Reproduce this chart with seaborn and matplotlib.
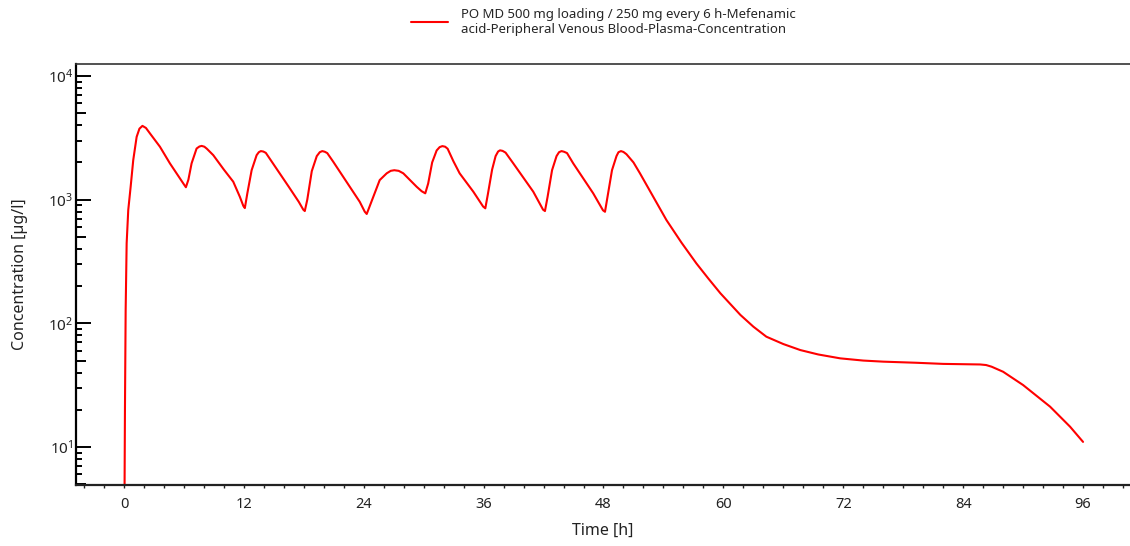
# Mefenamic acid plasma concentration, multiple dose PO

import numpy as np
import pandas as pd
import seaborn as sns
import matplotlib.pyplot as plt
from matplotlib.ticker import LogLocator, NullFormatter, MultipleLocator

# time [h] and concentration [ug/l]
time_h = [0.0, 0.1, 0.17, 0.27, 0.43, 0.67, 0.93, 1.27, 1.55, 1.85, 2.2, 2.6, 3.6, 4.6, 5.6, 6.0, 6.2,
          6.45, 6.77, 7.27, 7.55, 7.78, 8.05, 8.3, 8.94, 10.0, 10.94, 11.6, 11.95, 12.1,
          12.35, 12.78, 13.28, 13.5, 13.7, 13.95, 14.2, 14.85, 16.5, 17.5, 17.95, 18.1,
          18.35, 18.8, 19.3, 19.6, 19.85, 20.1, 20.35, 20.95, 22.6, 23.6, 24.1, 24.3,
          24.96, 25.6, 26.3, 26.7, 27.06, 27.5, 27.96, 28.96, 29.3, 29.8, 30.16,
          30.45, 30.85, 31.3, 31.6, 31.87, 32.15, 32.4, 32.97, 33.6, 34.97, 35.95, 36.17,
          36.42, 36.85, 37.2, 37.45, 37.64, 37.9, 38.2, 38.97, 40.97, 41.95, 42.14,
          42.4, 42.85, 43.3, 43.55, 43.8, 44.05, 44.35, 44.97, 46.97, 47.95, 48.15,
          48.4, 48.85, 49.3, 49.5, 49.75, 50.0, 50.3, 51.0, 51.65, 53.0, 54.3, 55.8, 57.3, 58.5, 59.7,
          61.7, 63.0, 64.3, 66.0, 67.7, 69.5, 71.7, 74.0, 76.0, 79.3, 82.0, 85.0, 85.7,
          86.3, 86.85, 88.0, 90.0, 92.7, 94.7, 96.0]
conc = [0.5, 20, 128, 444, 824, 1271, 2090, 3220, 3750, 3950, 3800, 3435, 2680, 1965, 1485, 1330, 1260,
        1450, 1965, 2590, 2690, 2720, 2680, 2580, 2290, 1750, 1397, 1055, 890, 855,
        1125, 1730, 2290, 2420, 2470, 2450, 2390, 2000, 1270, 960, 830, 809,
        1000, 1700, 2250, 2420, 2470, 2440, 2380, 2025, 1271, 961, 800, 766,
        1055, 1440, 1633, 1710, 1730, 1710, 1633, 1356, 1271, 1170, 1125,
        1350, 2000, 2500, 2660, 2710, 2680, 2580, 2050, 1633, 1160, 880, 851,
        1100, 1750, 2250, 2450, 2505, 2480, 2400, 1965, 1160, 830, 809,
        1050, 1730, 2250, 2420, 2470, 2440, 2380, 1965, 1125, 820, 798,
        1050, 1730, 2250, 2420, 2470, 2430, 2330, 2000, 1633, 1050, 684, 450, 305, 230, 175,
        117, 94, 78, 68, 60.8, 56, 52.1, 50, 49, 48, 47, 46.6, 46.5,
        46, 44.6, 40.6, 31.7, 21.2, 14.6, 11.0]

series_label = ('PO MD 500 mg loading / 250 mg every 6 h-Mefenamic\n'
                'acid-Peripheral Venous Blood-Plasma-Concentration')

df = pd.DataFrame({'Time': time_h, 'Concentration': conc})

sns.set_style('ticks')
plt.rcParams['font.family'] = ['Noto Sans', 'DejaVu Sans']

fig = plt.figure(figsize=(11.3, 5.46), dpi=100)
ax = fig.add_axes([76 / 1130, 61 / 546, 1 - 76 / 1130, 421 / 546])

sns.lineplot(data=df, x='Time', y='Concentration', color='#ff0000', lw=1.5,
             label=series_label, ax=ax)

ax.set_yscale('log')
ax.set_xlim(-4.8, 100.7)
ax.set_ylim(4.93, 12500)

ax.xaxis.set_major_locator(MultipleLocator(12))
ax.xaxis.set_minor_locator(MultipleLocator(2))
ax.yaxis.set_major_locator(LogLocator(base=10))
ax.yaxis.set_minor_locator(LogLocator(base=10, subs=np.arange(2, 10)))
ax.yaxis.set_minor_formatter(NullFormatter())

ax.tick_params(axis='x', which='both', direction='out', length=2.5, width=1,
               labelsize=10.5, color='#222222', labelcolor='#222222', pad=6)
ax.tick_params(axis='y', which='major', direction='in', length=10.5, width=1.4,
               labelsize=11, color='black', labelcolor='#222222', pad=2)
ax.tick_params(axis='y', which='minor', direction='in', length=4.3, width=1.4, color='black')

ax.spines['right'].set_visible(False)
ax.spines['top'].set_color('#333333')
ax.spines['top'].set_linewidth(1.2)
ax.spines['left'].set_linewidth(1.6)
ax.spines['bottom'].set_linewidth(1.6)
ax.spines['left'].set_color('black')
ax.spines['bottom'].set_color('#222222')

ax.set_xlabel('Time [h]', fontsize=11.5, color='#222222', labelpad=8)
ax.set_ylabel('Concentration [µg/l]', fontsize=11.5, color='#222222', labelpad=14)

ax.legend(loc='lower center', bbox_to_anchor=(0.5, 1.055), frameon=False,
          fontsize=9.5, handlelength=2.8, handletextpad=1.0, borderaxespad=0)

# longer ticks at 5 x decade
fig.canvas.draw()
minor_locs = ax.yaxis.get_minorticklocs()
for tick, loc in zip(ax.yaxis.get_minor_ticks(len(minor_locs)), minor_locs):
    mant = loc / 10 ** np.floor(np.log10(loc) + 1e-9)
    if abs(mant - 5) < 1e-6:
        tick.tick1line.set_markersize(7.3)

fig.savefig('out.png', dpi=100)
